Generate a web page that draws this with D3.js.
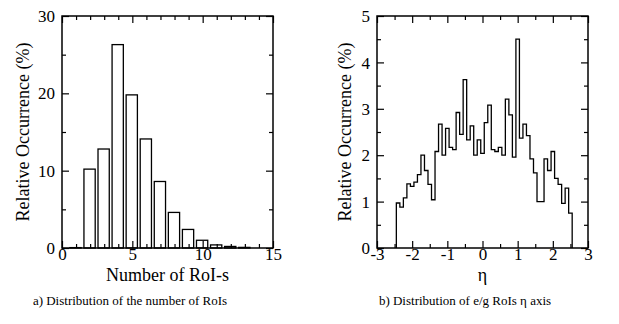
<!DOCTYPE html>
<html>
<head>
<meta charset="utf-8">
<script src="https://cdn.jsdelivr.net/npm/d3@7"></script>
<style>
  body { margin: 0; background: #fff; }
  svg text { font-family: "Liberation Serif", "DejaVu Serif", serif; fill: #000; }
</style>
</head>
<body>
<svg width="619" height="324"></svg>
<script>
var svg = d3.select("svg");

// a) number of RoIs per event
var roiCounts = [1, 2, 3, 4, 5, 6, 7, 8, 9, 10, 11, 12, 13];
var roiPercent = [0.05, 10.2, 12.8, 26.3, 19.8, 14.1, 8.6, 4.6, 2.4, 1.0, 0.4, 0.2, 0.08];

// b) eta distribution, bins of 0.1 starting at -2.45
var etaStart = -2.45, etaStep = 0.1;
var etaPercent = [
  0.97, 0.88, 1.08, 1.38, 1.33, 1.42, 1.58, 2.0, 1.67, 1.37,
  1.04, 2.08, 2.67, 2.0, 2.58, 2.17, 2.12, 2.92, 2.45, 3.63,
  2.33, 2.63, 2.0, 2.33, 2.04, 2.7, 3.08, 2.12, 2.08, 2.17,
  2.0, 3.21, 2.87, 1.96, 4.5, 2.37, 2.67, 2.42, 1.92, 1.62,
  1.0, 1.0, 1.92, 1.67, 2.08, 1.5, 1.37, 0.96, 1.29, 0.75
];

var captions = ["a) Distribution of the number of RoIs", "b) Distribution of e/g RoIs \u03b7 axis"];

var plotTop = 16, plotBottom = 248;

// draws the boxed frame with inward ticks on all four sides
function drawFrame(x, y, xMajor, xMinor, yMajor, yMinor, xTitle, yTitleOffset) {
  var g = svg.append("g");
  var x0 = x.range()[0], x1 = x.range()[1];
  var fmt = function(d) { return String(d); };

  // minor ticks
  g.append("g").attr("transform", "translate(0," + plotBottom + ")")
    .call(d3.axisBottom(x).tickValues(xMinor).tickSize(-4).tickFormat(""));
  g.append("g").attr("transform", "translate(0," + plotTop + ")")
    .call(d3.axisTop(x).tickValues(xMinor).tickSize(-4).tickFormat(""));
  g.append("g").attr("transform", "translate(" + x0 + ",0)")
    .call(d3.axisLeft(y).tickValues(yMinor).tickSize(-4).tickFormat(""));
  g.append("g").attr("transform", "translate(" + x1 + ",0)")
    .call(d3.axisRight(y).tickValues(yMinor).tickSize(-4).tickFormat(""));

  // major ticks
  g.append("g").attr("class", "xlab").attr("transform", "translate(0," + plotBottom + ")")
    .call(d3.axisBottom(x).tickValues(xMajor).tickSize(-7).tickPadding(1).tickFormat(fmt));
  g.append("g").attr("transform", "translate(0," + plotTop + ")")
    .call(d3.axisTop(x).tickValues(xMajor).tickSize(-7).tickFormat(""));
  g.append("g").attr("class", "ylab").attr("transform", "translate(" + x0 + ",0)")
    .call(d3.axisLeft(y).tickValues(yMajor).tickSize(-7).tickPadding(7).tickFormat(fmt));
  g.append("g").attr("transform", "translate(" + x1 + ",0)")
    .call(d3.axisRight(y).tickValues(yMajor).tickSize(-7).tickFormat(""));

  g.selectAll(".domain").remove();
  g.selectAll(".tick line").attr("stroke", "#000").attr("stroke-width", 1.2);
  g.selectAll(".tick text").style("font-size", "17px").attr("fill", "#000");
  g.selectAll(".xlab .tick text").attr("dy", "0.62em");
  g.selectAll(".ylab .tick text").attr("dy", "0.33em");

  g.append("rect")
    .attr("x", x0).attr("y", plotTop)
    .attr("width", x1 - x0).attr("height", plotBottom - plotTop)
    .attr("fill", "none").attr("stroke", "#000").attr("stroke-width", 1.5);

  g.append("text")
    .attr("x", (x0 + x1) / 2).attr("y", 281)
    .attr("text-anchor", "middle")
    .style("font-size", "18px")
    .text(xTitle);

  g.append("text")
    .attr("transform", "translate(" + (x0 - yTitleOffset) + "," + ((plotTop + plotBottom) / 2) + ") rotate(-90)")
    .attr("text-anchor", "middle")
    .style("font-size", "18px")
    .text("Relative Occurrence (%)");
  return g;
}

//////////// LEFT: number of RoIs ////////////
var xA = d3.scaleLinear().domain([0, 15]).range([62, 273]);
var yA = d3.scaleLinear().domain([0, 30]).range([plotBottom, plotTop]);

svg.append("g").selectAll("rect")
  .data(roiCounts)
  .enter().append("rect")
    .attr("x", function(d) { return xA(d - 0.44); })
    .attr("width", function(d) { return xA(d + 0.36) - xA(d - 0.44); })
    .attr("y", function(d, i) { return yA(roiPercent[i]); })
    .attr("height", function(d, i) { return yA(0) - yA(roiPercent[i]); })
    .attr("fill", "none")
    .attr("stroke", "#000")
    .attr("stroke-width", 1.3);

drawFrame(xA, yA, [0, 5, 10, 15], d3.range(1, 15).filter(function(d) { return d % 5; }),
  [0, 10, 20, 30], [5, 15, 25], "Number of RoI-s", 33);

//////////// RIGHT: eta ////////////
var xB = d3.scaleLinear().domain([-3, 3]).range([377, 588]);
var yB = d3.scaleLinear().domain([0, 5]).range([plotBottom, plotTop]);

var pts = [[etaStart, 0]];
etaPercent.forEach(function(v, i) { pts.push([etaStart + i * etaStep, v]); });
pts.push([etaStart + etaPercent.length * etaStep, 0]);

var line = d3.line()
  .x(function(d) { return xB(d[0]); })
  .y(function(d) { return yB(d[1]); })
  .curve(d3.curveStepAfter);

svg.append("path")
  .datum(pts)
  .attr("d", line)
  .attr("fill", "none")
  .attr("stroke", "#000")
  .attr("stroke-width", 1.3);

drawFrame(xB, yB, [-3, -2, -1, 0, 1, 2, 3], [-2.5, -1.5, -0.5, 0.5, 1.5, 2.5],
  [0, 1, 2, 3, 4, 5], [0.5, 1.5, 2.5, 3.5, 4.5], "\u03b7", 26);

//////////// CAPTIONS ////////////
svg.selectAll(".caption")
  .data(captions)
  .enter().append("text")
    .attr("class", "caption")
    .attr("x", function(d, i) { return i ? 465 : 130; })
    .attr("y", 305)
    .attr("text-anchor", "middle")
    .style("font-size", "13px")
    .text(function(d) { return d; });
</script>
</body>
</html>
